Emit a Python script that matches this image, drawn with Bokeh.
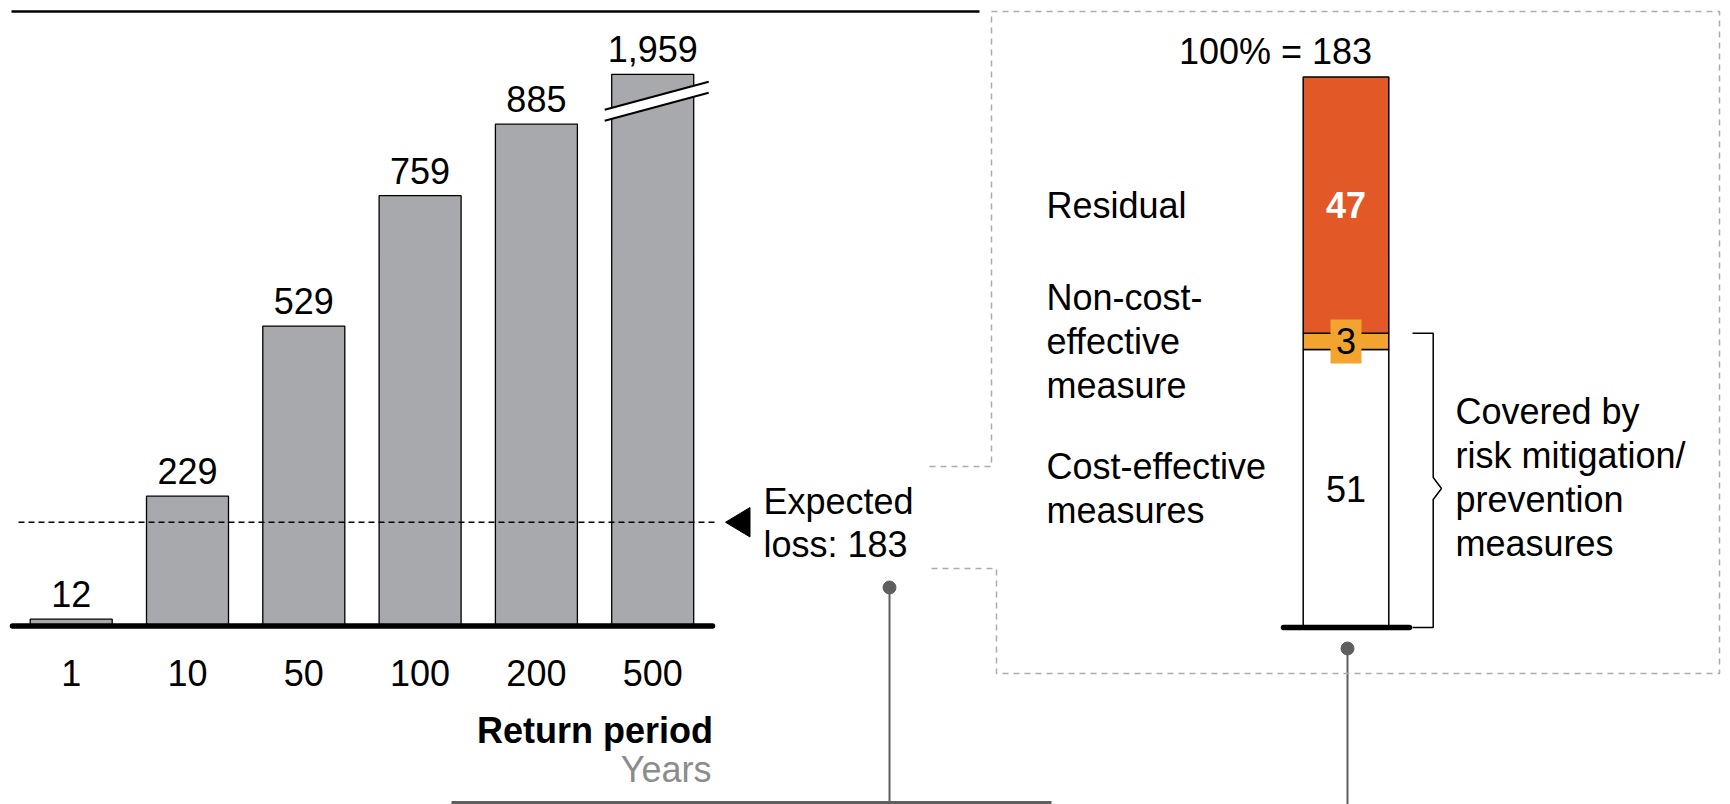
from bokeh.plotting import figure
from bokeh.models import Range1d, ColumnDataSource
from bokeh.core.properties import value
from bokeh.embed import file_html
from bokeh.resources import INLINE

# ---------------- data ----------------
return_periods = ["1", "10", "50", "100", "200", "500"]
losses = [12, 229, 529, 759, 885, 1959]
expected_loss = 183

segment_labels = [["Cost-effective", "measures"],
                  ["Non-cost-", "effective", "measure"],
                  ["Residual"]]
segment_values = [51, 3, 47]
total_value = 183
covered_lines = ["Covered by", "risk mitigation/", "prevention", "measures"]
x_title = "Return period"
x_unit = "Years"

# ---------------- layout / style ----------------
W, H = 1730, 804
FONT = value("Liberation Sans")
FS = "36px"
BAR_X0, BAR_STEP = 70.7, 116.3      # page x of first bar centre, spacing
VAL_BASE, VAL_K = 625.5, 0.567      # page y of baseline, px per unit
PCT_BASE, PCT_K = 627.0, 5.45       # stacked bar baseline, px per unit
BREAK_CAP = 973                     # axis break for very tall bar
GREY_BAR = "#A7A9AC"
ORANGE = "#E25826"
YELLOW = "#F2A42F"
CONN = "#5F5F5F"
BOXC = "#ABABAB"

p = figure(width=W, height=H,
           x_range=Range1d((0 - BAR_X0) / BAR_STEP, (W - BAR_X0) / BAR_STEP),
           y_range=Range1d((VAL_BASE - H) / VAL_K, VAL_BASE / VAL_K),
           output_backend="svg", toolbar_location=None,
           x_axis_location=None, y_axis_location=None,
           min_border=0, outline_line_color=None,
           background_fill_color="white", border_fill_color="white")
p.grid.grid_line_color = None
p.extra_x_ranges = {"px": Range1d(0, W)}
p.extra_y_ranges = {"py": Range1d(H, 0),
                    "pct": Range1d((PCT_BASE - H) / PCT_K, PCT_BASE / PCT_K)}

PX = dict(x_range_name="px", y_range_name="py")
TXT = dict(text_font=FONT, text_font_size=FS, text_baseline="middle")

# top rule
p.line([11, 979], [11, 11], line_width=2.5, color="black", **PX)

# ---------------- left bar chart ----------------
idx = list(range(len(losses)))
draw_top = [min(v, BREAK_CAP) for v in losses]
src = ColumnDataSource(dict(i=idx, top=draw_top, lab=[f"{v:,}" for v in losses],
                            tick=return_periods, ty=[672] * len(idx)))
p.vbar(x="i", top="top", bottom=0, width=0.705, source=src,
       fill_color=GREY_BAR, line_color="black", line_width=1.3)

# axis break on the clipped bar
for i, v in enumerate(losses):
    if v > BREAK_CAP:
        cx = BAR_X0 + BAR_STEP * i
        ytop = VAL_BASE - BREAK_CAP * VAL_K
        xs = [cx - 48, cx + 56, cx + 56, cx - 48]
        ys = [ytop + 35.5, ytop + 7.5, ytop + 18.5, ytop + 46.5]
        p.patch(xs, ys, fill_color="white", line_color=None, **PX)
        p.line([cx - 48, cx + 56], [ytop + 35.5, ytop + 7.5], line_width=2, color="black", **PX)
        p.line([cx - 48, cx + 56], [ytop + 46.5, ytop + 18.5], line_width=2, color="black", **PX)

# baseline
p.line([12, 712], [0, 0], line_width=5.5, color="black", line_cap="round", x_range_name="px")

# value labels
p.text(x="i", y="top", text="lab", source=src, y_offset=-25,
       text_align="center", text_color="black", **TXT)
# tick labels
p.text(x="i", y="ty", text="tick", source=src, y_range_name="py",
       text_align="center", text_color="black", **TXT)

# axis title
p.text(x=[712.5], y=[730], text=[x_title], text_align="right",
       text_font_style="bold", text_color="black", **TXT, **PX)
p.text(x=[711], y=[769], text=[x_unit], text_align="right",
       text_color="#8C8C8C", **TXT, **PX)

# expected loss line + pointer
p.line([18, 714], [expected_loss, expected_loss], line_dash="6 4", line_width=1.5,
       color="black", x_range_name="px")
tri_h = 14.75 / VAL_K
p.patch([725, 749.5, 749.5], [expected_loss, expected_loss + tri_h, expected_loss - tri_h],
        color="black", x_range_name="px")
p.text(x=[763, 763], y=[501, 544], text=["Expected", f"loss: {expected_loss}"],
       text_align="left", text_color="black", **TXT, **PX)

# connectors
p.line([889, 889], [587, H], line_width=2, color=CONN, **PX)
p.scatter([889], [587], size=13, color=CONN, **PX)
p.line([451, 1051], [802, 802], line_width=3, color=CONN, **PX)
p.line([1347, 1347], [648, H], line_width=2, color=CONN, **PX)
p.scatter([1347], [648], size=13, color=CONN, **PX)

# dashed callout box
p.line([929, 991, 991, 1719, 1719, 996, 996, 929],
       [466, 466, 11, 11, 673, 673, 568, 568],
       line_dash="6 5", line_width=1.5, color=BOXC, **PX)

# ---------------- right stacked bar ----------------
bottoms, tops = [], []
acc = 0
for v in segment_values:
    bottoms.append(acc)
    acc += v
    tops.append(acc)
centers = [(b + t) / 2 for b, t in zip(bottoms, tops)]
BAR_CX, BAR_W = 1345.5, 85.6
p.vbar(x=[BAR_CX] * 3, width=BAR_W, bottom=bottoms, top=tops,
       fill_color=["white", YELLOW, ORANGE], line_color="black", line_width=1.5,
       x_range_name="px", y_range_name="pct")
p.line([1283, 1409], [0, 0], line_width=5.5, color="black", line_cap="round",
       x_range_name="px", y_range_name="pct")

# total label
p.text(x=[1275], y=[51], text=[f"100% = {total_value}"], text_align="center",
       text_color="black", **TXT, **PX)

# value labels inside segments
p.rect(x=[BAR_CX], y=[centers[1]], width=31, height=44, width_units="screen",
       height_units="screen", fill_color=YELLOW, line_color=None,
       x_range_name="px", y_range_name="pct")
p.text(x=[BAR_CX] * 2, y=[centers[0], centers[1]],
       text=[str(segment_values[0]), str(segment_values[1])],
       text_align="center", text_color="black", **TXT,
       x_range_name="px", y_range_name="pct")
p.text(x=[BAR_CX], y=[centers[2]], text=[str(segment_values[2])],
       text_align="center", text_font_style="bold", text_color="white", **TXT,
       x_range_name="px", y_range_name="pct")

# segment names (left of bar)
LH = 44
lx, ly, lt, lo = [], [], [], []
for lines, c in zip(segment_labels, centers):
    n = len(lines)
    for k, s in enumerate(lines):
        lx.append(1046)
        ly.append(c)
        lt.append(s)
        lo.append((k - (n - 1) / 2) * LH)
p.text(x=lx, y=ly, text=lt, y_offset=lo, text_align="left", text_color="black", **TXT,
       x_range_name="px", y_range_name="pct")

# bracket for covered part
cov_top = tops[1]
notch = centers[0]
eps = 11 / PCT_K
p.line([1412, 1432.7, 1432.7, 1441, 1432.7, 1432.7, 1412],
       [cov_top, cov_top, notch + eps, notch, notch - eps, 0, 0],
       line_width=1.5, color="black", x_range_name="px", y_range_name="pct")
cov_c = cov_top / 2
n = len(covered_lines)
p.text(x=[1455] * n, y=[cov_c] * n, text=covered_lines,
       y_offset=[(k - (n - 1) / 2) * LH - 3 for k in range(n)],
       text_align="left", text_color="black", **TXT,
       x_range_name="px", y_range_name="pct")

open("out.html", "w").write(file_html(p, INLINE))
